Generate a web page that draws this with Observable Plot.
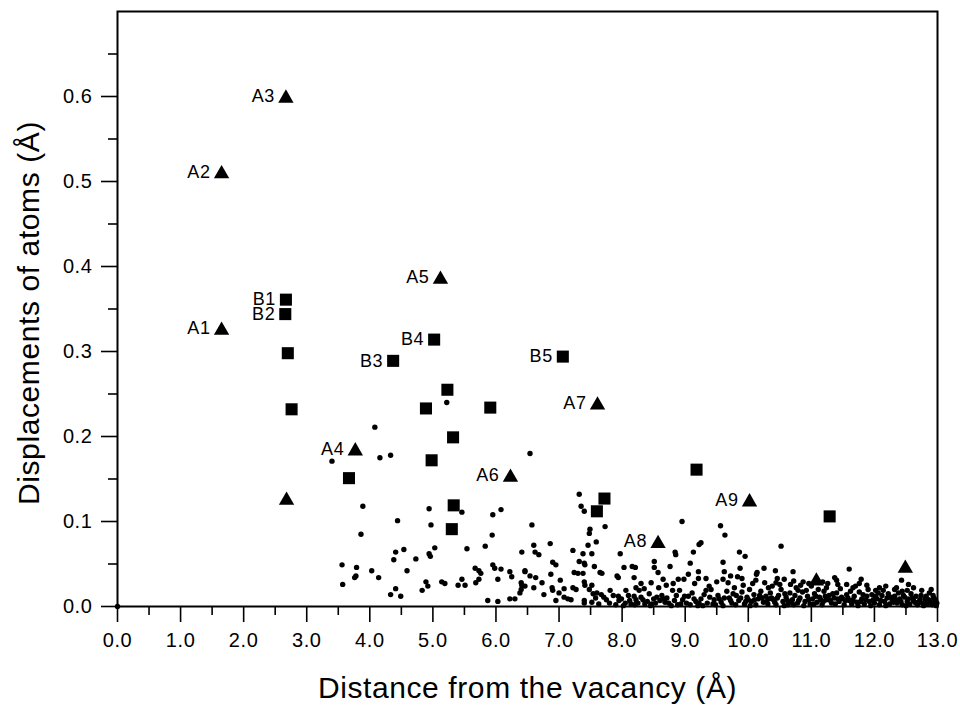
<!DOCTYPE html>
<html>
<head>
<meta charset="utf-8">
<script src="https://cdn.jsdelivr.net/npm/d3@7"></script>
<script src="https://cdn.jsdelivr.net/npm/@observablehq/plot@0.6"></script>
<style>
  html, body { margin: 0; padding: 0; background: #fff; }
  svg text { letter-spacing: 0.6px; }
</style>
</head>
<body>
<script>
// ---- Data ----
const xMajorTicks = [0,1,2,3,4,5,6,7,8,9,10,11,12,13];
const xMinorTicks = [0.5,1.5,2.5,3.5,4.5,5.5,6.5,7.5,8.5,9.5,10.5,11.5,12.5];
const yMajorTicks = [0,0.1,0.2,0.3,0.4,0.5,0.6];
const yMinorTicks = [0.05,0.15,0.25,0.35,0.45,0.55,0.65];

const xTitle = "Distance from the vacancy (Å)";
const yTitle = "Displacements of atoms (Å)";

// triangles (A atoms)
const triangleLabels = ["A1","A2","A3","A4","A5","A6","A7","A8","A9","","",""];
const triangleX = [1.65,1.65,2.67,3.77,5.12,6.23,7.61,8.57,10.02,2.68,11.08,12.49];
const triangleY = [0.325,0.509,0.598,0.183,0.385,0.152,0.237,0.074,0.123,0.125,0.030,0.045];

// squares (B atoms)
const squareLabels = ["B1","B2","B3","B4","B5","","","","","","","","","","","","","",""];
const squareX = [2.67,2.66,4.37,5.02,7.06,2.70,2.76,5.23,4.89,5.91,5.32,4.98,3.67,5.33,5.30,7.72,7.60,9.18,11.29];
const squareY = [0.361,0.344,0.289,0.314,0.294,0.298,0.232,0.255,0.233,0.234,0.199,0.172,0.151,0.119,0.091,0.127,0.112,0.161,0.106];

// small dots (other atoms) [distance, displacement]
const smallDots = [
[0,0],
[5.22,.240],[4.08,.211],[4.16,.175],[4.33,.178],[3.40,.171],[6.54,.180],
[7.32,.132],[7.35,.118],[7.40,.112],
[3.89,.118],[4.94,.115],[5.46,.111],[5.95,.108],[6.08,.114],
[4.44,.101],[4.97,.096],[6.57,.096],[7.73,.094],[7.49,.091],[7.48,.086],
[3.86,.085],[5.94,.084],[7.59,.076],[7.46,.072],
[4.41,.064],[4.54,.067],[4.38,.055],[4.94,.062],[4.96,.059],[5.03,.069],[4.73,.056],[5.54,.068],[5.83,.071],[6.41,.064],
[3.56,.049],[3.79,.046],[3.78,.036],[3.76,.034],[4.03,.042],[4.14,.034],[4.59,.042],[3.57,.026],
[5.67,.045],[5.73,.042],[5.76,.039],[5.95,.049],[5.98,.045],[6.08,.044],[6.22,.041],[6.25,.035],[6.46,.041],
[6.03,.032],[5.68,.028],[5.73,.032],[5.46,.032],[5.40,.025],[5.51,.025],[5.14,.029],[5.19,.027],[4.89,.029],[4.92,.024],[4.83,.019],[4.41,.021],[4.33,.014],[4.49,.012],
[6.41,.025],[6.40,.020],[6.38,.016],[6.22,.009],[6.30,.009],[5.87,.007],[6.03,.006],
[6.60,.072],[6.86,.074],[6.62,.064],[6.68,.061],[7.22,.066],[7.38,.062],[7.52,.062],[7.97,.062],
[8.95,.100],[9.56,.095],[9.63,.084],[9.25,.075],[9.22,.073],[8.84,.064],[8.85,.061],[9.13,.064],
[7.32,.053],[6.90,.052],[6.95,.049],[7.41,.049],[7.56,.047],[7.40,.051],
[6.46,.042],[6.54,.036],[6.63,.034],[6.87,.038],[7.24,.040],[7.30,.039],[7.38,.039],[7.65,.040],[7.68,.039],[7.92,.036],[7.94,.034],[8.03,.046],[8.16,.047],[8.21,.046],[8.51,.053],[8.51,.046],[8.57,.040],[8.76,.047],[9.08,.051],[9.60,.052],[9.62,.041],[9.21,.041],[9.05,.038],[8.98,.032],[8.89,.032],[8.81,.027],[8.19,.034],[8.65,.032],[9.21,.033],[9.33,.033],[9.60,.032],
[6.40,.028],[6.46,.024],[6.73,.028],[7.02,.031],[6.60,.022],[7.40,.029],[7.41,.025],[7.52,.025],[7.08,.021],[6.89,.022],[6.90,.019],[7.22,.022],[7.27,.020],[6.76,.014],[7.00,.016],[7.08,.011],[7.14,.009],[7.19,.008],[6.95,.007],[7.40,.007],[7.48,.020],[7.54,.015],[7.60,.016],[7.67,.014],[7.71,.011],[7.81,.019],[7.94,.012],[7.95,.007],[8.06,.019],[8.22,.022],[8.27,.019],[8.35,.021],[8.19,.012],[8.22,.008],[7.40,.004],
[7.52,.005],[7.58,.010],[7.63,.003],[7.75,.008],[7.80,.004],[7.86,.013],[7.90,.002],[7.99,.009],[8.05,.004],[8.10,.013],[8.14,.003],[8.25,.004],[8.30,.011],[8.36,.003],
[8.43,.015],[8.50,.009],[8.55,.011],[8.60,.007],[8.63,.013],[8.68,.005],[8.71,.010],[8.74,.004],[8.47,.003],[8.80,.019],[8.86,.013],[8.91,.019],[8.96,.008],[9.02,.004],[9.05,.012],[9.11,.016],[9.17,.006],[9.25,.009],[9.30,.014],[9.35,.004],[9.41,.020],[9.46,.008],[9.52,.013],[9.57,.005],[9.62,.010],[9.38,.024],[9.33,.019],[8.58,.022],[8.40,.006],[8.88,.002],[9.20,.001],[9.48,.002],
[10.52,.071],[9.86,.064],[9.95,.059],[9.87,.045],[9.83,.035],[10.25,.045],[10.14,.040],[10.13,.038],[10.43,.042],[10.71,.041],[11.60,.044],[11.37,.034],[11.40,.031],[10.46,.033],[10.57,.032],[10.32,.022],[10.38,.024],[10.87,.029],[10.83,.025],[10.79,.019],[10.67,.026],[11.79,.032],[11.76,.027],[11.56,.026],[11.24,.022],[12.08,.022],[12.32,.020],[12.43,.031],[12.54,.026],[12.52,.019],[12.90,.020],
[9.66,.018],[9.70,.010],[9.74,.004],[9.78,.022],[9.81,.013],[9.85,.007],[9.90,.017],[9.94,.003],[9.98,.011],[10.02,.020],[10.05,.006],[10.09,.014],[10.12,.002],[10.16,.009],[10.20,.018],[10.24,.005],[10.28,.012],[10.31,.003],[10.35,.016],[10.40,.008],[10.44,.002],[10.48,.013],[10.52,.020],[10.55,.006],[10.60,.011],[10.63,.002],[10.66,.016],[10.70,.008],[10.74,.013],[10.78,.004],[10.82,.010],[10.86,.017],[10.90,.006],[10.94,.012],[10.98,.003],[11.02,.009],[11.05,.015],[11.09,.005],[11.13,.011],[11.17,.002],[11.20,.018],[11.24,.008],[11.28,.013],[11.32,.004],[11.36,.010],[11.40,.016],[11.44,.006],[11.48,.011],[11.52,.002],[11.56,.014],[11.60,.007],[11.64,.003],[11.68,.012],[11.72,.005],[11.76,.017],[11.80,.009],[11.84,.003],[11.88,.012],[11.92,.006],[11.96,.014],[12.00,.004],[12.04,.009],[12.08,.002],[12.12,.013],[12.16,.006],[12.20,.010],[12.24,.003],[12.28,.008],[12.32,.012],[12.36,.004],[12.40,.009],[12.44,.002],[12.48,.011],[12.52,.006],[12.56,.003],[12.60,.010],[12.64,.005],[12.68,.002],[12.72,.008],[12.76,.004],[12.80,.009],[12.84,.003],[12.88,.006],[12.92,.002],[12.96,.005],[12.98,.001],
[9.68,.028],[9.76,.015],[9.92,.025],[10.00,.008],[10.07,.027],[10.18,.013],[10.26,.028],[10.37,.010],[10.50,.026],[10.58,.015],[10.68,.005],[10.76,.022],[10.92,.019],[11.00,.024],[11.11,.020],[11.15,.008],[11.26,.027],[11.34,.015],[11.46,.021],[11.50,.009],[11.62,.018],[11.70,.024],[11.82,.014],[11.90,.020],[11.98,.008],[12.06,.016],[12.14,.019],[12.22,.015],[12.30,.005],[12.38,.016],[12.46,.013],[12.58,.015],[12.66,.012],[12.74,.013],[12.82,.012],[12.86,.008],[12.94,.010],[12.97,.007],
[8.02,.001],[8.12,.007],[8.20,.002],[8.33,.008],[8.45,.001],[8.53,.004],[8.66,.009],[8.78,.001],[8.83,.007],[8.93,.003],[8.99,.012],[9.08,.002],[9.14,.009],[9.22,.004],[9.28,.001],[9.39,.011],[9.44,.003],[9.54,.009],[9.60,.001],[9.72,.007],[9.80,.002],[9.88,.010],[9.96,.006],[10.03,.001],[10.10,.008],[10.22,.010],[10.29,.006],[10.33,.009],[10.42,.005],[10.46,.010],[10.57,.001],[10.62,.007],[10.72,.002],[10.80,.007],[10.88,.001],[10.96,.008],[11.04,.003],[11.07,.012],[11.19,.006],[11.22,.012],[11.30,.007],[11.38,.003],[11.42,.009],[11.54,.007],[11.58,.010],[11.66,.008],[11.74,.001],[11.78,.006],[11.86,.008],[11.94,.001],[12.02,.012],[12.10,.007],[12.18,.001],[12.26,.011],[12.34,.007],[12.42,.006],[12.50,.001],[12.54,.009],[12.62,.007],[12.70,.005],[12.78,.001],[12.83,.007],[12.90,.004],[12.95,.009],[12.99,.004],
[12.93,.013],[12.87,.016],[12.75,.019],[12.62,.022],[12.44,.018],[12.35,.022],[12.18,.024],[12.02,.019],[11.88,.025],[11.66,.022],[11.42,.026],[11.18,.029],[10.96,.027],[10.72,.030],[10.44,.028],[10.12,.031],[9.90,.033],[9.72,.036],[9.50,.029],[9.15,.027],[8.70,.025],[8.46,.028],[8.30,.027]
];

// ---- Build tables ----
const triangles = triangleX.map((x, i) => ({x, y: triangleY[i], label: triangleLabels[i]}));
const squares = squareX.map((x, i) => ({x, y: squareY[i], label: squareLabels[i]}));
const dots = smallDots.map(([x, y]) => ({x, y}));
const fmt = d3.format(".1f");

const chart = Plot.plot({
  width: 960,
  height: 706,
  marginLeft: 117,
  marginRight: 23,
  marginTop: 11,
  marginBottom: 100,
  style: {fontFamily: "'Liberation Sans', Arial, Helvetica, sans-serif", color: "black", background: "white"},
  x: {domain: [0, 13]},
  y: {domain: [0, 0.70]},
  marks: [
    Plot.axisX(xMinorTicks, {tickSize: 9, tickFormat: () => "", label: null, strokeWidth: 1.6}),
    Plot.axisX(xMajorTicks, {tickSize: 16, tickPadding: 10, tickFormat: fmt, fontSize: 20, label: null, strokeWidth: 1.6}),
    Plot.axisY(yMinorTicks, {tickSize: 9, tickFormat: () => "", label: null, strokeWidth: 1.6}),
    Plot.axisY(yMajorTicks, {tickSize: 16, tickPadding: 9, tickFormat: fmt, fontSize: 20, label: null, strokeWidth: 1.6}),
    Plot.frame({strokeWidth: 2}),
    Plot.dot(dots, {x: "x", y: "y", r: 2.7, fill: "black"}),
    Plot.dot(squares, {x: "x", y: "y", r: 6.8, symbol: "square", fill: "black"}),
    Plot.dot(triangles, {x: "x", y: "y", r: 5.7, symbol: "triangle", fill: "black"}),
    Plot.text(triangles.filter(d => d.label), {x: "x", y: "y", text: "label", textAnchor: "end", lineAnchor: "middle", dx: -11, dy: -2, fontSize: 18, fill: "black"}),
    Plot.text(squares.filter(d => d.label), {x: "x", y: "y", text: "label", textAnchor: "end", lineAnchor: "middle", dx: -10, fontSize: 18, fill: "black"}),
    Plot.text([xTitle], {frameAnchor: "bottom", dy: 82, textAnchor: "middle", lineAnchor: "middle", fontSize: 30, fill: "black"}),
    Plot.text([yTitle], {frameAnchor: "left", dx: -88, dy: 4, rotate: -90, textAnchor: "middle", lineAnchor: "middle", fontSize: 30, fill: "black"})
  ]
});
document.body.appendChild(chart);
</script>
</body>
</html>
